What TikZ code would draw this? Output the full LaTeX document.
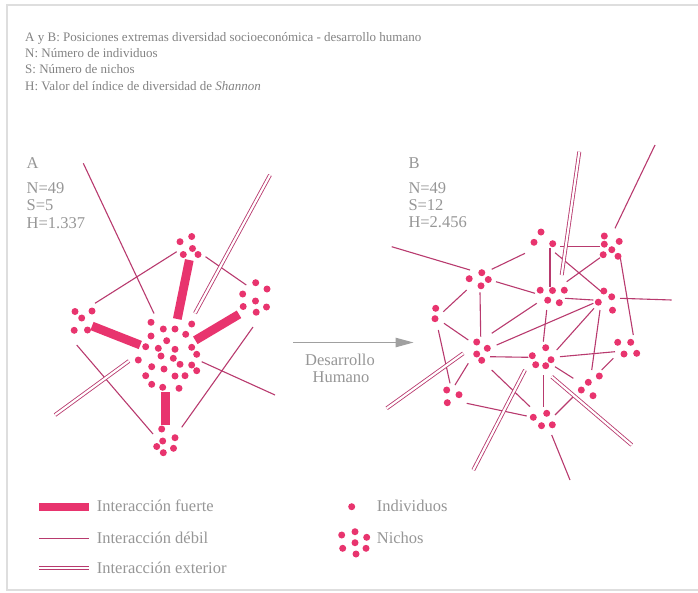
\documentclass[tikz,border=0pt]{standalone}
\usepackage{fontspec}
\setmainfont{Liberation Serif}
\usetikzlibrary{arrows.meta}
\definecolor{dotpink}{RGB}{232,52,110}
\definecolor{linepink}{RGB}{184,58,110}
\definecolor{txtgray}{RGB}{130,130,130}
\definecolor{lblgray}{RGB}{150,150,150}
\definecolor{framegray}{RGB}{222,222,222}
\definecolor{arrowgray}{RGB}{160,160,160}
\begin{document}
\begin{tikzpicture}[x=1pt,y=-1pt,
  dot/.style={circle,fill=dotpink,inner sep=0pt,minimum size=7pt},
  weak/.style={linepink,line width=1.1pt},
  strong/.style={dotpink,line width=8.8pt},
  ext/.style={linepink,double=white,double distance=2.2pt,line width=0.85pt},
  hdr/.style={anchor=base west,inner sep=0pt,font=\fontsize{13}{15}\selectfont,text=txtgray},
  lbl/.style={anchor=base west,inner sep=0pt,font=\fontsize{16.5}{19}\selectfont,text=lblgray}]
\useasboundingbox (0,0) rectangle (698,592);
% frame
\draw[framegray,line width=1.5pt] (698,5) -- (7,5) -- (7,590) -- (698,590);

% header
\node[hdr] (h1) at (25,41) {A y B: Posiciones extremas diversidad socioeconómica - desarrollo humano};
\node[hdr] (h2) at (25,57.3) {N: Número de individuos};
\node[hdr] (h3) at (25,73.6) {S: Número de nichos};
\node[hdr] (h4) at (25,90) {H: Valor del índice de diversidad de \textit{Shannon}};

% panel labels
\node[lbl] (la) at (26.5,168.3) {A};
\node[lbl] (la1) at (26.5,193) {N=49};
\node[lbl] (la2) at (26.5,210.8) {S=5};
\node[lbl] (la3) at (26.5,228) {H=1.337};
\node[lbl] (lb) at (408.3,168.3) {B};
\node[lbl] (lb1) at (408.3,193) {N=49};
\node[lbl] (lb2) at (408.3,210.3) {S=12};
\node[lbl] (lb3) at (408.3,227.7) {H=2.456};

% ---------- panel A ----------
% weak
\draw[weak] (83.3,163.3) -- (154,313.5);
\draw[weak] (176.7,251.7) -- (95,303.3);
\draw[weak] (205.5,256.7) -- (246.3,285);
\draw[weak] (76.7,345) -- (153,434);
\draw[weak] (253,327) -- (181.7,427.3);
\draw[weak] (201.7,361.7) -- (275,395);
% exterior
\draw[ext] (270,175) -- (195,313.3);
\draw[ext] (129,361) -- (55,415);
% strong
\draw[strong] (189.3,260) -- (177.3,319);
\draw[strong] (92,326) -- (140.3,345);
\draw[strong] (239,314.3) -- (195.3,340.3);
\draw[strong] (165.5,392.3) -- (165.5,425);
% dots
\foreach \p [count=\i] in {(180,241.7),(191.7,236.5),(183.3,254.5),(192.5,248.5),(198,254.5),
  (255.7,282.7),(267,289),(242.7,294),(255.5,301),(266.5,307),(243.2,306.5),(256.2,312.2),
  (75,311.5),(92,311),(81.7,318),(74.2,330.3),(87.5,330),
  (161.7,429),(162.7,441),(175,437.7),(156.7,446.5),(173.5,448.3),(163.3,452.7),
  (151,322.3),(163.3,329),(175,329),(191.7,324),(151,336),(166.7,340.7),(185.7,334.3),
  (145.7,346.7),(158.3,348.3),(175,349.3),(191.7,347.3),(138.3,360),(161,356),(173.3,358.3),
  (196.7,354.3),(151.7,366.7),(164,369),(180,364.3),(191.7,365),(196.7,370.7),(145.7,375.7),
  (175,376),(185,375.7),(151.7,384.3),(162.7,387.3),(179,388.3)}
  \node[dot] (a\i) at \p {};

% ---------- arrow ----------
\coordinate (arrS) at (293,342.5);
\coordinate (arrE) at (413.5,342.5);
\draw[arrowgray,line width=1pt,-{Triangle[length=18pt,width=9.5pt]}] (arrS) -- (arrE);
\node[anchor=base,inner sep=0pt,font=\fontsize{16.5}{19}\selectfont,text=lblgray] (dh1) at (340,365) {Desarrollo};
\node[anchor=base,inner sep=0pt,font=\fontsize{16.5}{19}\selectfont,text=lblgray] (dh2) at (341,382.5) {Humano};

% ---------- panel B ----------
\draw[weak] (391.7,246.7) -- (470,270);
\draw[weak] (491.7,269.3) -- (525,253.3);
\draw[weak] (496,281.7) -- (535,293.3);
\draw[weak] (466.7,290) -- (443.3,311.7);
\draw[weak] (480,292.3) -- (480.7,336.7);
\draw[weak] (444,323.3) -- (468.3,340);
\draw[weak] (438.3,330) -- (450,383.3);
\draw[weak] (550,248.3) -- (550,286.7);
\draw[weak] (560,246.7) -- (600,246.7);
\draw[weak] (555,252.7) -- (603.3,293.3);
\draw[weak] (566.7,281.7) -- (600,257.7);
\draw[weak] (655,145) -- (615,228.3);
\draw[weak] (620,256) -- (633.3,335);
\draw[weak] (620,298.3) -- (671.7,300);
\draw[weak] (565,298.3) -- (593.3,300);
\draw[weak] (546.7,310) -- (543.3,341.7);
\draw[weak] (536.7,303.3) -- (491.7,333.3);
\draw[weak] (593.3,303.3) -- (496.7,345);
\draw[weak] (594,308.3) -- (556.7,350);
\draw[weak] (600,310) -- (591.7,370);
\draw[weak] (490,356.7) -- (528.3,357.3);
\draw[weak] (560,356.7) -- (615,351.7);
\draw[weak] (601.7,370) -- (613.3,358.3);
\draw[weak] (555,366.7) -- (573.3,378.3);
\draw[weak] (543.3,375) -- (543.3,406.7);
\draw[weak] (491.7,370) -- (530,406.7);
\draw[weak] (468.3,363.3) -- (455,385);
\draw[weak] (466.7,403.3) -- (526.7,416);
\draw[weak] (555,415) -- (573.3,396.7);
\draw[weak] (551.7,435) -- (570,480);
\draw[ext] (579.3,151.7) -- (561.7,275);
\draw[ext] (463.3,353.3) -- (386.7,408.3);
\draw[ext] (525,370) -- (473.3,470);
\draw[ext] (551.7,376.7) -- (631.7,445);
\foreach \p [count=\i] in {(541,232),(534,242.3),(552.7,243.7),
  (604.3,236),(619.2,241.4),(604.3,244.2),(611.8,249.7),(603.2,254.7),(618,256.3),
  (481.8,272.7),(469.2,278.7),(488.3,279.5),(481,285.8),
  (540.2,290.2),(552.5,290.5),(564.3,290.2),(547.7,300.2),(559.3,302.7),
  (603.8,291),(611.7,296.8),(598.3,302.2),(612.5,310.2),
  (435.7,308.3),(435,318.7),
  (476.7,342),(487.3,348.3),(476.7,354),(481.7,360.3),
  (545.7,347.7),(532.3,355.7),(551,359.7),(535.7,364.7),(545.7,365.7),
  (617.7,342.3),(630.7,342.3),(624,354),(636.7,353.3),
  (446.7,390),(459,394.7),(447.3,402.7),
  (599.3,376),(588.3,382.3),(581.3,390),(593,395.7),
  (546.7,413.3),(533.3,417.3),(541.5,425.7),(552.3,424.8)}
  \node[dot] (b\i) at \p {};

% ---------- legend ----------
\coordinate (lg1a) at (39.3,506.7); \coordinate (lg1b) at (89,506.7);
\coordinate (lg2a) at (39.3,538.3); \coordinate (lg2b) at (89,538.3);
\coordinate (lg3a) at (39.3,567.7); \coordinate (lg3b) at (89,567.7);
\draw[dotpink,line width=8pt] (lg1a) -- (lg1b);
\draw[weak] (lg2a) -- (lg2b);
\draw[ext] (lg3a) -- (lg3b);
\node[lbl] (t1) at (96.7,511.7) {Interacción fuerte};
\node[lbl] (t2) at (96.7,543.3) {Interacción débil};
\node[lbl] (t3) at (96.7,573.3) {Interacción exterior};
\node[dot] (ind) at (351.7,506.7) {};
\foreach \p [count=\i] in {(341.7,535),(355,531.7),(366.7,537.3),(355,542.7),(342.7,548.3),(366,548.3),(356,554)}
  \node[dot] (n\i) at \p {};
\node[lbl] (t4) at (376.7,511.7) {Individuos};
\node[lbl] (t5) at (376.7,543.3) {Nichos};
\end{tikzpicture}
\end{document}
